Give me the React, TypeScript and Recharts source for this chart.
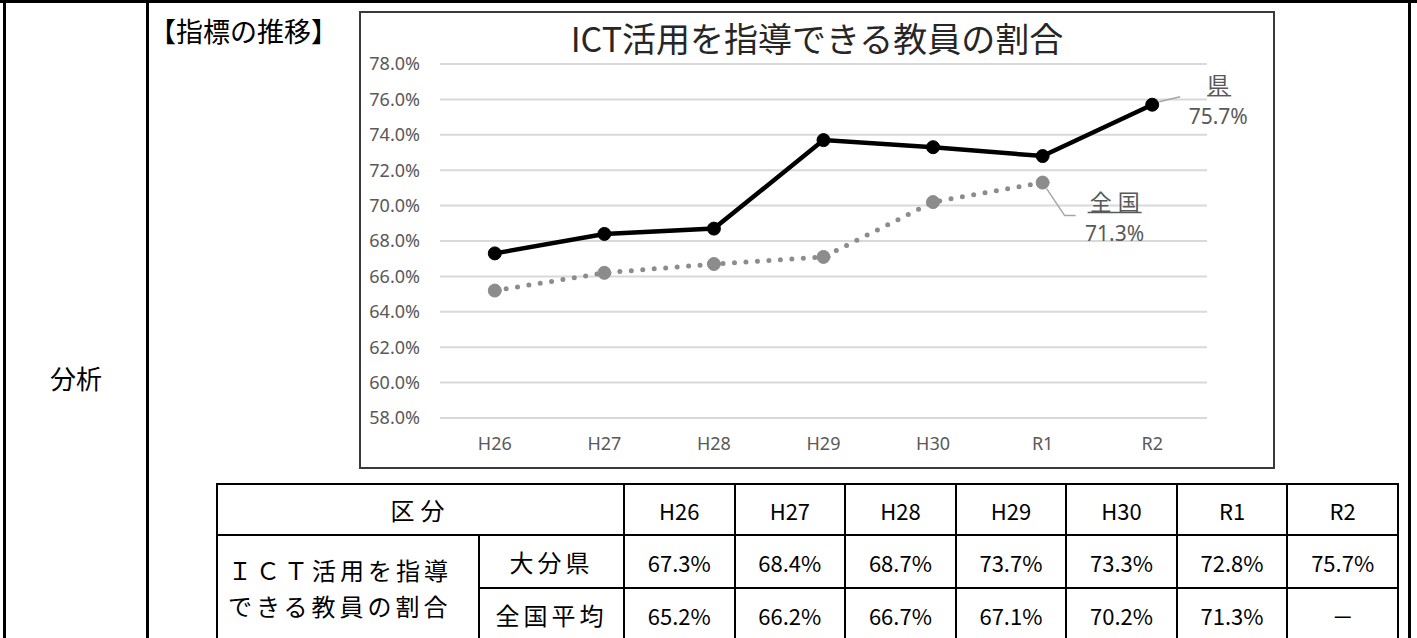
import { CartesianGrid, Line, LineChart, XAxis, YAxis } from "recharts";

const years = ["H26", "H27", "H28", "H29", "H30", "R1", "R2"];
const kenValues = [67.3, 68.4, 68.7, 73.7, 73.3, 72.8, 75.7];
const zenkokuValues: (number | null)[] = [65.2, 66.2, 66.7, 67.1, 70.2, 71.3, null];
const yTicks = [58, 60, 62, 64, 66, 68, 70, 72, 74, 76, 78];

const kenName = "県";
const zenkokuName = "全国";
const chartTitle = "ICT活用を指導できる教員の割合";
const rowHeader = ["ＩＣＴ活用を指導", "できる教員の割合"];
const kenRowName = "大分県";
const zenkokuRowName = "全国平均";

const data = years.map((name, i) => ({
  name,
  ken: kenValues[i],
  zenkoku: zenkokuValues[i],
}));

const jpFont = "'Noto Sans CJK JP', sans-serif";
const labelFont = "'Noto Sans', 'Noto Sans CJK JP', sans-serif";
const pct = (v: number | null) => (v == null ? "－" : `${v.toFixed(1)}%`);

const kenLast = kenValues.length - 1;
const zenkokuLast = zenkokuValues.reduce<number>((acc, v, i) => (v != null ? i : acc), 0);

function KenLabel(props: any) {
  const { x, y, index, value } = props;
  if (index !== kenLast) return null;
  return (
    <g>
      <line x1={x + 7} y1={y - 3} x2={x + 28} y2={y - 8} stroke="#a6a6a6" strokeWidth={1.5} />
      <text x={x + 66} y={y - 21} textAnchor="middle" dominantBaseline="central" fontSize={22} fill="#595959" fontFamily={labelFont}>
        {kenName}
      </text>
      <line x1={x + 55} y1={y - 9} x2={x + 79} y2={y - 9} stroke="#595959" strokeWidth={1.5} />
      <text x={x + 66} y={y + 11} textAnchor="middle" dominantBaseline="central" fontSize={21} fill="#595959" fontFamily={labelFont}>
        {pct(value)}
      </text>
    </g>
  );
}

function ZenkokuLabel(props: any) {
  const { x, y, index, value } = props;
  if (index !== zenkokuLast) return null;
  return (
    <g>
      <polyline
        points={`${x + 4},${y + 6} ${x + 22},${y + 33} ${x + 33},${y + 33}`}
        fill="none"
        stroke="#a6a6a6"
        strokeWidth={1.5}
      />
      <text x={x + 75} y={y + 18} textAnchor="middle" dominantBaseline="central" fontSize={22} letterSpacing={6} fill="#595959" fontFamily={labelFont}>
        {zenkokuName}
      </text>
      <line x1={x + 45} y1={y + 30} x2={x + 99} y2={y + 30} stroke="#595959" strokeWidth={1.5} />
      <text x={x + 72} y={y + 50} textAnchor="middle" dominantBaseline="central" fontSize={21} fill="#595959" fontFamily={labelFont}>
        {pct(value)}
      </text>
    </g>
  );
}

const cell = {
  border: "2px solid #000",
  padding: 0,
  textAlign: "center" as const,
  verticalAlign: "middle" as const,
};

export default function App() {
  return (
    <div
      style={{
        position: "absolute",
        left: 0,
        top: 0,
        width: 1417,
        height: 638,
        overflow: "hidden",
        background: "#fff",
        fontFamily: jpFont,
        color: "#000",
      }}
    >
      {/* outer table lines */}
      <div style={{ position: "absolute", left: 0, top: 0, width: 1417, height: 3, background: "#000" }} />
      <div style={{ position: "absolute", left: 3, top: 0, width: 3, height: 638, background: "#000" }} />
      <div style={{ position: "absolute", left: 146, top: 0, width: 3, height: 638, background: "#000" }} />
      <div style={{ position: "absolute", left: 1408, top: 0, width: 3, height: 638, background: "#000" }} />

      <div style={{ position: "absolute", left: 50, top: 364, fontSize: 26, lineHeight: "28px" }}>分析</div>
      <div style={{ position: "absolute", left: 149, top: 17, fontSize: 27, lineHeight: "28px", fontWeight: 400 }}>
        【指標の推移】
      </div>

      {/* chart box */}
      <div
        style={{
          position: "absolute",
          left: 359,
          top: 11,
          width: 916,
          height: 458,
          boxSizing: "border-box",
          border: "2px solid #3a3a3a",
        }}
      />
      <div
        style={{
          position: "absolute",
          left: 359,
          top: 18,
          width: 916,
          textAlign: "center",
          fontSize: 34,
          lineHeight: "40px",
          color: "#262626",
        }}
      >
        {chartTitle}
      </div>
      <div style={{ position: "absolute", left: 359, top: 11 }}>
        <LineChart width={916} height={458} data={data} margin={{ top: 53, right: 68, left: 0, bottom: 0 }}>
          <CartesianGrid vertical={false} stroke="#d9d9d9" strokeWidth={2} />
          <XAxis
            dataKey="name"
            height={51}
            axisLine={false}
            tickLine={false}
            tickSize={0}
            tickMargin={19}
            padding={{ left: 54.8, right: 54.8 }}
            tick={{ fill: "#595959", fontSize: 18, fontFamily: labelFont }}
          />
          <YAxis
            width={81}
            domain={[58, 78]}
            ticks={yTicks}
            axisLine={false}
            tickLine={false}
            tickSize={0}
            tickMargin={20}
            tickFormatter={(v: number) => `${v.toFixed(1)}%`}
            tick={{ fill: "#595959", fontSize: 18, fontFamily: labelFont }}
          />
          <Line
            type="linear"
            dataKey="zenkoku"
            stroke="#8c8c8c"
            strokeWidth={5}
            strokeDasharray="0 11.5"
            strokeLinecap="round"
            dot={{ r: 6.5, fill: "#8c8c8c", stroke: "#8c8c8c", strokeWidth: 1, strokeDasharray: "none" }}
            label={ZenkokuLabel}
            isAnimationActive={false}
          />
          <Line
            type="linear"
            dataKey="ken"
            stroke="#000"
            strokeWidth={4.5}
            dot={{ r: 6.5, fill: "#000", stroke: "#000", strokeWidth: 1 }}
            label={KenLabel}
            isAnimationActive={false}
          />
        </LineChart>
      </div>

      {/* data table */}
      <table
        style={{
          position: "absolute",
          left: 216,
          top: 483,
          width: 1181,
          borderCollapse: "collapse",
          tableLayout: "fixed",
          fontSize: 22,
        }}
      >
        <colgroup>
          <col style={{ width: 262 }} />
          <col style={{ width: 145 }} />
          {years.map((y) => (
            <col key={y} style={{ width: 110.57 }} />
          ))}
        </colgroup>
        <tbody>
          <tr style={{ height: 51 }}>
            <td colSpan={2} style={{ ...cell, fontSize: 24, letterSpacing: 6 }}>
              区分
            </td>
            {years.map((y) => (
              <td key={y} style={cell}>
                {y}
              </td>
            ))}
          </tr>
          <tr style={{ height: 53 }}>
            <td
              rowSpan={2}
              style={{ ...cell, textAlign: "left", paddingLeft: 10, fontSize: 24, lineHeight: "36px", letterSpacing: 4 }}
            >
              {rowHeader[0]}
              <br />
              {rowHeader[1]}
            </td>
            <td style={{ ...cell, fontSize: 24, letterSpacing: 4 }}>{kenRowName}</td>
            {kenValues.map((v, i) => (
              <td key={i} style={cell}>
                {pct(v)}
              </td>
            ))}
          </tr>
          <tr style={{ height: 53 }}>
            <td style={{ ...cell, fontSize: 24, letterSpacing: 4 }}>{zenkokuRowName}</td>
            {zenkokuValues.map((v, i) => (
              <td key={i} style={cell}>
                {pct(v)}
              </td>
            ))}
          </tr>
        </tbody>
      </table>
    </div>
  );
}
